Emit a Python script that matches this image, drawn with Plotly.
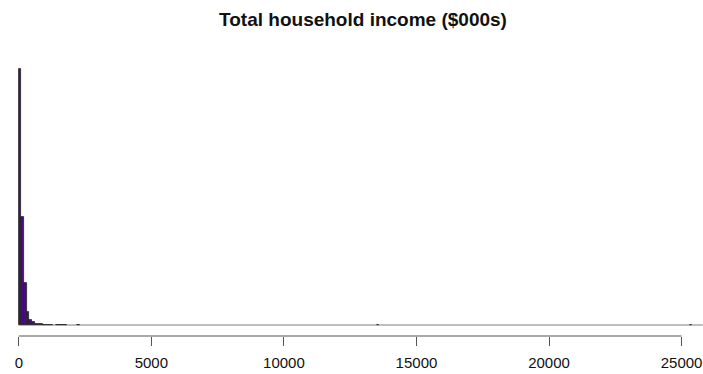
import plotly.graph_objects as go

# Histogram of total household income ($000s), bin width 100
bin_width = 100
bin_starts = [0, 100, 200, 300, 400, 500, 600, 700, 800, 900, 1000, 1100,
              1200, 1400, 1500, 1600, 1700, 2200, 13500, 25300]
bin_counts = [2400, 1010, 395, 120, 50, 25, 14, 9, 6, 4, 3, 2,
              1, 2, 1, 1, 1, 1, 1, 1]
last_break = 25800

tick_vals = [0, 5000, 10000, 15000, 20000, 25000]
tick_text = [str(v) for v in tick_vals]

bar_fill = "#4B0A82"

fig = go.Figure()
fig.add_trace(go.Bar(
    x=[s + bin_width / 2 for s in bin_starts],
    y=bin_counts,
    width=bin_width,
    marker=dict(color=bar_fill, line=dict(color="#222222", width=0.8)),
    showlegend=False,
    hoverinfo="skip",
))

# zero-height bins show up as a thin line along the baseline
fig.add_shape(type="line", xref="x", yref="y", x0=0, x1=last_break, y0=0, y1=0,
              line=dict(color="#a8a8a8", width=1.6), layer="below")

# axis line spanning the first to last tick, drawn below the plotting area
fig.add_shape(type="line", xref="x", yref="paper", x0=tick_vals[0], x1=tick_vals[-1],
              y0=0, y1=0, line=dict(color="#555555", width=1))

fig.update_layout(
    width=703, height=374,
    margin=dict(l=0, r=0, t=60, b=38),
    paper_bgcolor="white", plot_bgcolor="white",
    bargap=0,
    font=dict(family="Liberation Sans, Arial, sans-serif", color="#111111"),
    title=dict(text="<b>Total household income ($000s)</b>",
               x=363 / 703, xanchor="center", xref="paper",
               y=1 - 19 / 374, yanchor="middle", yref="container",
               font=dict(size=19, color="#111111")),
    xaxis=dict(range=[-709, 25807], showgrid=False, zeroline=False, showline=False,
               tickmode="array", tickvals=tick_vals, ticktext=tick_text,
               ticks="outside", ticklen=9, tickcolor="#555555", tickwidth=1,
               ticklabelstandoff=4,
               tickfont=dict(size=15, color="#111111"), automargin=False),
    yaxis=dict(range=[-103, 2484], visible=False, fixedrange=True),
)

fig.write_html("out.html")
